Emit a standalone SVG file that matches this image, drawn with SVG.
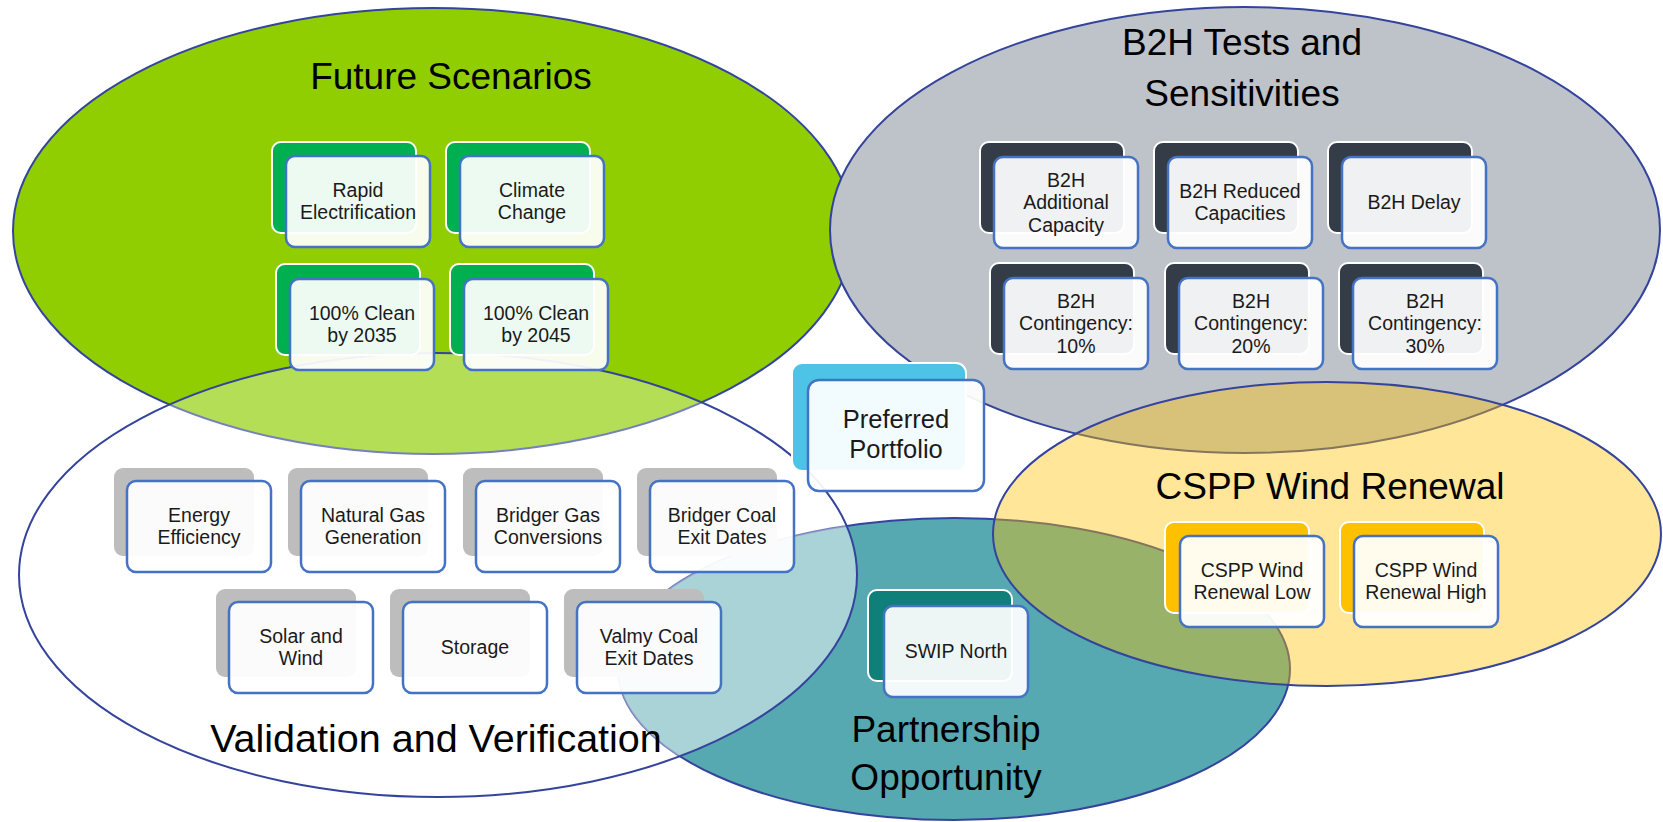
<svg xmlns="http://www.w3.org/2000/svg" width="1663" height="822" viewBox="0 0 1663 822">
<defs>
<style>
.ol{stroke:#34449C;stroke-width:2;}
.back{stroke:#fff;stroke-width:2;}
.front{fill:#fff;fill-opacity:0.93;stroke:#4472C4;stroke-width:2.5;}
.t{font-family:"Liberation Sans",Arial,sans-serif;font-size:19.5px;fill:#1a1a1a;text-anchor:middle;}
.title{font-family:"Liberation Sans",Arial,sans-serif;font-size:37px;fill:#000;text-anchor:middle;}
.g{fill:#00B050;}
.d{fill:#343C48;}
.s{fill:#BDBDBD;stroke:none;}
.o{fill:#FFC000;}
.tl{fill:#0E7F79;}
.lb{fill:#4DC3E6;}
</style>
<clipPath id="clipWhite"><ellipse cx="438" cy="575" rx="419" ry="222"/></clipPath>
</defs>
<rect width="1663" height="822" fill="#fff"/>

<g id="circles">
<ellipse id="c-future" cx="433" cy="231" rx="420" ry="223" fill="#90CE02" class="ol"/>
<ellipse id="c-b2h" cx="1245" cy="230" rx="415" ry="223" fill="#BEC2C9" class="ol"/>
<ellipse id="c-partner" cx="954" cy="669" rx="336" ry="151" fill="#56A9B1" class="ol"/>
<ellipse cx="438" cy="575" rx="419" ry="222" fill="#fff" fill-opacity="0.33"/>
<ellipse cx="954" cy="669" rx="336" ry="151" fill="#fff" fill-opacity="0.25" clip-path="url(#clipWhite)"/>
<ellipse id="c-valid" cx="438" cy="575" rx="419" ry="222" fill="none" class="ol"/>
<ellipse id="c-cspp" cx="1327" cy="534" rx="334" ry="152" fill="#FFC000" fill-opacity="0.4" class="ol"/>
</g>

<g id="titles">
<text class="title" x="451" y="89">Future Scenarios</text>
<text class="title" x="1242" y="55">B2H Tests and</text>
<text class="title" x="1242" y="106">Sensitivities</text>
<text class="title" x="1330" y="499">CSPP Wind Renewal</text>
<text class="title" x="436" y="752" style="font-size:39.5px">Validation and Verification</text>
<text class="title" x="946" y="742">Partnership</text>
<text class="title" x="946" y="790">Opportunity</text>
</g>

<g id="connectors"></g>

<g id="n-rapid"><rect class="back g" x="272" y="142" width="144" height="91" rx="9"/><rect class="front" x="286" y="156" width="144" height="91" rx="9"/><text class="t"><tspan x="358" y="196.9">Rapid</tspan><tspan x="358" y="219.4">Electrification</tspan></text></g>
<g id="n-climate"><rect class="back g" x="446" y="142" width="144" height="91" rx="9"/><rect class="front" x="460" y="156" width="144" height="91" rx="9"/><text class="t"><tspan x="532" y="196.9">Climate</tspan><tspan x="532" y="219.4">Change</tspan></text></g>
<g id="n-clean2035"><rect class="back g" x="276" y="264" width="144" height="91" rx="9"/><rect class="front" x="290" y="279" width="144" height="91" rx="9"/><text class="t"><tspan x="362" y="319.9">100% Clean</tspan><tspan x="362" y="342.4">by 2035</tspan></text></g>
<g id="n-clean2045"><rect class="back g" x="450" y="264" width="144" height="91" rx="9"/><rect class="front" x="464" y="279" width="144" height="91" rx="9"/><text class="t"><tspan x="536" y="319.9">100% Clean</tspan><tspan x="536" y="342.4">by 2045</tspan></text></g>

<g id="n-b2h-add"><rect class="back d" x="980" y="142" width="144" height="91" rx="9"/><rect class="front" x="994" y="157" width="144" height="91" rx="9"/><text class="t"><tspan x="1066" y="186.6">B2H</tspan><tspan x="1066" y="209.1">Additional</tspan><tspan x="1066" y="231.6">Capacity</tspan></text></g>
<g id="n-b2h-red"><rect class="back d" x="1154" y="142" width="144" height="91" rx="9"/><rect class="front" x="1168" y="157" width="144" height="91" rx="9"/><text class="t"><tspan x="1240" y="197.9">B2H Reduced</tspan><tspan x="1240" y="220.4">Capacities</tspan></text></g>
<g id="n-b2h-delay"><rect class="back d" x="1328" y="142" width="144" height="91" rx="9"/><rect class="front" x="1342" y="157" width="144" height="91" rx="9"/><text class="t" x="1414" y="209.1">B2H Delay</text></g>
<g id="n-b2h-10"><rect class="back d" x="990" y="263" width="144" height="91" rx="9"/><rect class="front" x="1004" y="278" width="144" height="91" rx="9"/><text class="t"><tspan x="1076" y="307.6">B2H</tspan><tspan x="1076" y="330.1">Contingency:</tspan><tspan x="1076" y="352.6">10%</tspan></text></g>
<g id="n-b2h-20"><rect class="back d" x="1165" y="263" width="144" height="91" rx="9"/><rect class="front" x="1179" y="278" width="144" height="91" rx="9"/><text class="t"><tspan x="1251" y="307.6">B2H</tspan><tspan x="1251" y="330.1">Contingency:</tspan><tspan x="1251" y="352.6">20%</tspan></text></g>
<g id="n-b2h-30"><rect class="back d" x="1339" y="263" width="144" height="91" rx="9"/><rect class="front" x="1353" y="278" width="144" height="91" rx="9"/><text class="t"><tspan x="1425" y="307.6">B2H</tspan><tspan x="1425" y="330.1">Contingency:</tspan><tspan x="1425" y="352.6">30%</tspan></text></g>

<g id="n-preferred"><rect class="back lb" x="792" y="363" width="174" height="108" rx="10"/><rect class="front" x="808" y="380" width="176" height="111" rx="11"/><text class="t" style="font-size:25.5px"><tspan x="896" y="428">Preferred</tspan><tspan x="896" y="458">Portfolio</tspan></text></g>

<g id="n-energy"><rect class="back s" x="114" y="468" width="140" height="88" rx="9"/><rect class="front" x="127" y="481" width="144" height="91" rx="9"/><text class="t"><tspan x="199" y="521.9">Energy</tspan><tspan x="199" y="544.4">Efficiency</tspan></text></g>
<g id="n-natgas"><rect class="back s" x="288" y="468" width="140" height="88" rx="9"/><rect class="front" x="301" y="481" width="144" height="91" rx="9"/><text class="t"><tspan x="373" y="521.9">Natural Gas</tspan><tspan x="373" y="544.4">Generation</tspan></text></g>
<g id="n-bridgergas"><rect class="back s" x="463" y="468" width="140" height="88" rx="9"/><rect class="front" x="476" y="481" width="144" height="91" rx="9"/><text class="t"><tspan x="548" y="521.9">Bridger Gas</tspan><tspan x="548" y="544.4">Conversions</tspan></text></g>
<g id="n-bridgercoal"><rect class="back s" x="637" y="468" width="140" height="88" rx="9"/><rect class="front" x="650" y="481" width="144" height="91" rx="9"/><text class="t"><tspan x="722" y="521.9">Bridger Coal</tspan><tspan x="722" y="544.4">Exit Dates</tspan></text></g>
<g id="n-solar"><rect class="back s" x="216" y="589" width="140" height="88" rx="9"/><rect class="front" x="229" y="602" width="144" height="91" rx="9"/><text class="t"><tspan x="301" y="642.9">Solar and</tspan><tspan x="301" y="665.4">Wind</tspan></text></g>
<g id="n-storage"><rect class="back s" x="390" y="589" width="140" height="88" rx="9"/><rect class="front" x="403" y="602" width="144" height="91" rx="9"/><text class="t" x="475" y="654.1">Storage</text></g>
<g id="n-valmy"><rect class="back s" x="564" y="589" width="140" height="88" rx="9"/><rect class="front" x="577" y="602" width="144" height="91" rx="9"/><text class="t"><tspan x="649" y="642.9">Valmy Coal</tspan><tspan x="649" y="665.4">Exit Dates</tspan></text></g>

<g id="n-swip"><rect class="back tl" x="868" y="590" width="144" height="91" rx="9"/><rect class="front" x="884" y="606" width="144" height="91" rx="9"/><text class="t" x="956" y="658.1">SWIP North</text></g>
<g id="n-cspp-low"><rect class="back o" x="1165" y="522" width="144" height="91" rx="9"/><rect class="front" x="1180" y="536" width="144" height="91" rx="9"/><text class="t"><tspan x="1252" y="576.9">CSPP Wind</tspan><tspan x="1252" y="599.4">Renewal Low</tspan></text></g>
<g id="n-cspp-high"><rect class="back o" x="1340" y="522" width="144" height="91" rx="9"/><rect class="front" x="1354" y="536" width="144" height="91" rx="9"/><text class="t"><tspan x="1426" y="576.9">CSPP Wind</tspan><tspan x="1426" y="599.4">Renewal High</tspan></text></g>
</svg>
